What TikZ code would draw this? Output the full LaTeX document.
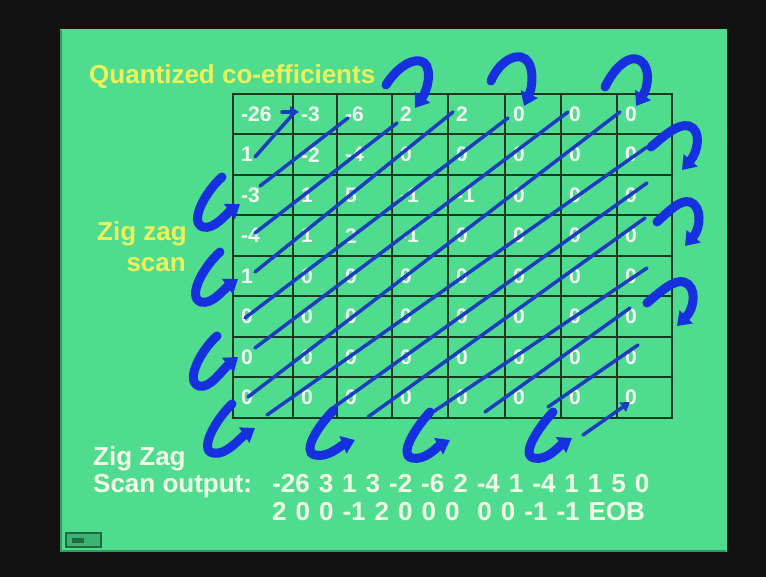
\documentclass[tikz,border=0pt]{standalone}
\usepackage{fontspec}
\setmainfont{Liberation Sans}
\usetikzlibrary{arrows.meta}
\definecolor{bgblack}{HTML}{121212}
\definecolor{slidegreen}{HTML}{50DC8F}
\definecolor{slideedge}{HTML}{2F9A5F}
\definecolor{gridgreen}{HTML}{173A20}
\definecolor{cellwhite}{HTML}{F4FFF4}
\definecolor{ylw}{HTML}{EEF25A}
\definecolor{paletxt}{HTML}{F2FFE6}
\definecolor{hookblue}{HTML}{1630DD}
\definecolor{lineblue}{HTML}{1E3CBE}
\definecolor{iconfill}{HTML}{3DB273}
\definecolor{icondark}{HTML}{1F6B3F}
\begin{document}
\begin{tikzpicture}[x=1pt,y=-1pt,
  gridline/.style={draw=gridgreen,line width=2pt},
  cell/.style={anchor=west,inner sep=0pt,text=cellwhite,font=\fontsize{21}{21}\selectfont\bfseries},
  ytxt/.style={inner sep=0pt,text=ylw,font=\fontsize{26}{26}\selectfont\bfseries},
  wtxt/.style={inner sep=0pt,text=paletxt,font=\fontsize{26}{26}\selectfont\bfseries},
  diag/.style={draw=lineblue,line width=3.5pt,line cap=round},
  hook/.style={draw=hookblue,line width=9pt,line cap=round,-{Triangle[length=13pt,width=18pt]}},
  thinarrow/.style={draw=lineblue,line width=3.5pt,line cap=round,-{Triangle[length=9pt,width=11pt]}}]
\fill[bgblack] (0,0) rectangle (766,577);
\useasboundingbox (0,0) rectangle (766,577);
\fill[slidegreen] (60,29) rectangle (727,552);
\draw[slideedge,line width=1.5pt] (61,30) -- (61,551) -- (726,551);
% grid
\draw[gridline] (233,94) rectangle (672,418);
\foreach \x in {293,337,392,448,505,561,617} \draw[gridline] (\x,94) -- (\x,418);
\foreach \y in {134.5,175,215.5,256,296.5,337,377.5} \draw[gridline] (233,\y) -- (672,\y);
% cells
\foreach \r/\vals in {0/{-26,-3,-6,2,2,0,0,0},1/{1,-2,-4,0,0,0,0,0},2/{-3,1,5,-1,-1,0,0,0},3/{-4,1,2,-1,0,0,0,0},4/{1,0,0,0,0,0,0,0},5/{0,0,0,0,0,0,0,0},6/{0,0,0,0,0,0,0,0},7/{0,0,0,0,0,0,0,0}}{
  \foreach \v [count=\c from 0] in \vals {
    \pgfmathsetmacro\xx{{233,293,337,392,448,505,561,617}[\c]+8}
    \pgfmathsetmacro\yy{94+40.5*\r+20.25}
    \node[cell] (c\r\c) at (\xx,\yy) {\v};
  }
}
% texts
\node[ytxt,anchor=base west] (title) at (89,84) {Quantized co-efficients};
\node[ytxt,anchor=base east] (zz1) at (187,241) {Zig zag};
\node[ytxt,anchor=base east] (zz2) at (186,272) {scan};
\node[wtxt,anchor=base west] (zo1) at (93,465) {Zig Zag};
\node[wtxt,anchor=base west] (zo2) at (93,492) {Scan output:};
\node[wtxt,anchor=base west] (seq1) at (272,492) {\spaceskip=9pt\relax -26 3 1 3 -2 -6 2 -4 1 -4 1 1 5 0};
\node[wtxt,anchor=base west] (seq2) at (272,520) {\spaceskip=9pt\relax 2 0 0 -1 2 0 0 0\ \ 0 0 -1 -1 EOB};
% icon
\draw[draw=icondark,fill=iconfill,line width=1.5pt] (66,533) rectangle (101,547);
\fill[icondark] (72,538) rectangle (84,543);
% diagonals
\draw[diag] (255,157) -- (294,113);
\draw[diag] (260,186) -- (348,118);
\draw[diag] (255,233) -- (397,123);
\draw[diag] (255,272) -- (453,112);
\draw[diag] (245,318) -- (508,118);
\draw[diag] (255,348) -- (568,112);
\draw[diag] (248,397) -- (620,112);
\draw[diag] (267,415) -- (647,147);
\draw[diag] (330,410) -- (647,183);
\draw[diag] (368,417) -- (645,218);
\draw[diag] (433,412) -- (647,268);
\draw[diag] (485,412) -- (630,308);
\draw[diag] (548,407) -- (638,345);
\draw[thinarrow] (583,435) -- (630,402);
\draw[thinarrow] (282,112) -- (299,112);
% left hooks
\draw[hook] (222,177) .. controls (207,190) and (188,222) .. (203,227) .. controls (214,230) and (226,214) .. (240,204);
\draw[hook] (220,252) .. controls (205,265) and (186,297) .. (201,302) .. controls (212,305) and (224,289) .. (238,279);
\draw[hook] (217,336) .. controls (202,349) and (184,381) .. (199,386) .. controls (210,389) and (222,370) .. (238,357);
\draw[hook] (232,404) .. controls (217,418) and (198,450) .. (213,453) .. controls (226,456) and (240,438) .. (255,428);
% bottom hooks
\draw[hook] (333,411) .. controls (319,425) and (301,452) .. (315,455) .. controls (328,458) and (340,446) .. (355,440);
\draw[hook] (430,412) .. controls (416,427) and (398,455) .. (412,458) .. controls (425,461) and (437,447) .. (450,440);
\draw[hook] (553,412) .. controls (539,427) and (520,455) .. (534,458) .. controls (547,461) and (558,447) .. (572,438);
% top hooks
\draw[hook] (386,85) .. controls (394,72) and (408,59) .. (420,61) .. controls (433,63) and (429,88) .. (415,108);
\draw[hook] (491,81) .. controls (497,66) and (510,55) .. (521,57) .. controls (535,60) and (533,86) .. (524,106);
\draw[hook] (605,87) .. controls (613,70) and (626,57) .. (636,59) .. controls (651,62) and (649,86) .. (636,106);
% right hooks
\draw[hook] (651,147) .. controls (664,136) and (678,123) .. (689,126) .. controls (702,130) and (698,152) .. (682,170);
\draw[hook] (657,222) .. controls (668,212) and (680,199) .. (690,202) .. controls (702,206) and (701,228) .. (685,246);
\draw[hook] (647,303) .. controls (660,292) and (674,279) .. (684,282) .. controls (697,286) and (695,308) .. (677,326);
\end{tikzpicture}
\end{document}
